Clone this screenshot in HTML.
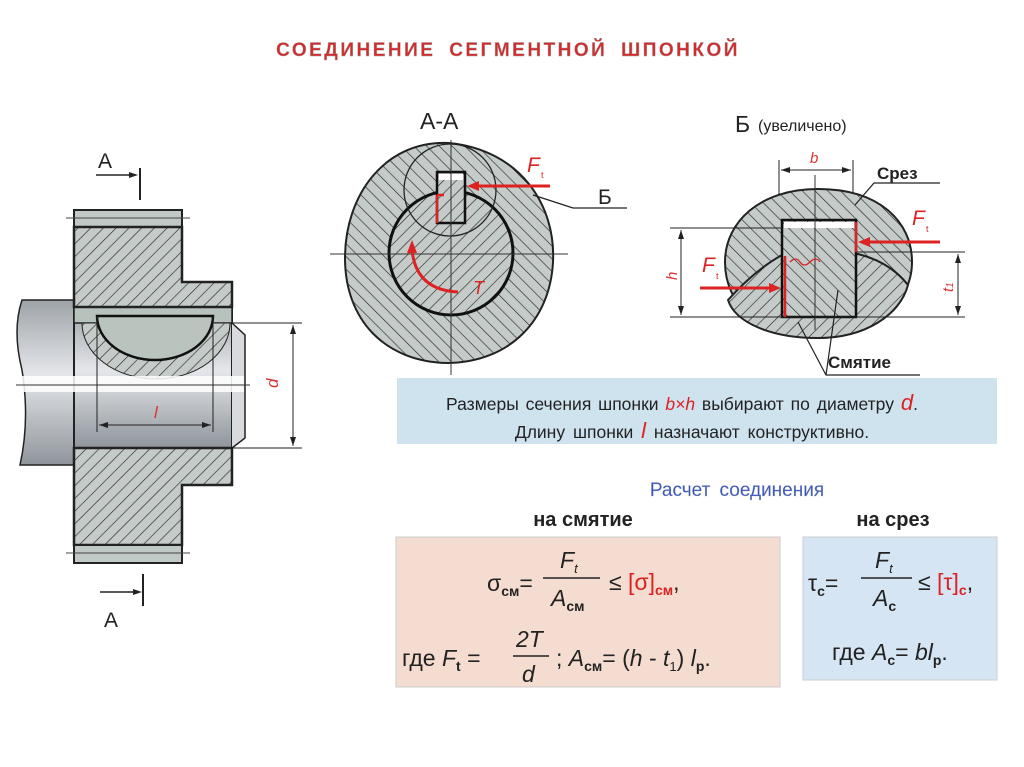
<!DOCTYPE html>
<html><head><meta charset="utf-8"><style>
body{margin:0;background:#fff;}
svg{display:block}
text{font-family:"Liberation Sans",sans-serif;}
</style></head><body>
<svg width="1024" height="767" viewBox="0 0 1024 767" xmlns="http://www.w3.org/2000/svg">
<defs>
<pattern id="h1" patternUnits="userSpaceOnUse" width="9" height="9" patternTransform="rotate(45)">
<rect width="9" height="9" fill="#c4cbc8"/><line x1="0" y1="0" x2="0" y2="9" stroke="#2a2a2a" stroke-width="1.3"/></pattern>
<pattern id="h2" patternUnits="userSpaceOnUse" width="9" height="9" patternTransform="rotate(-45)">
<rect width="9" height="9" fill="#c4cbc8"/><line x1="0" y1="0" x2="0" y2="9" stroke="#2a2a2a" stroke-width="1.3"/></pattern>
<linearGradient id="sh" x1="0" y1="0" x2="0" y2="1">
<stop offset="0" stop-color="#9ea3a8"/><stop offset="0.45" stop-color="#e4e6ea"/><stop offset="1" stop-color="#8f959b"/></linearGradient>
</defs>

<text x="508" y="56" text-anchor="middle" font-size="19" font-weight="bold" fill="#d42a2a" stroke="#a0a0a0" stroke-width="0.4" letter-spacing="2.5" word-spacing="6">СОЕДИНЕНИЕ  СЕГМЕНТНОЙ  ШПОНКОЙ</text>

<!-- LEFT VIEW -->
<path d="M22,300 Q12,330 22,370 Q30,420 20,465 L74,465 L74,300 Z" fill="url(#sh)" stroke="#222" stroke-width="1.5"/>
<rect x="74" y="307" width="158" height="141" fill="url(#sh)" stroke="#222" stroke-width="2"/>
<path d="M232,323 L245,335 L245,438 L232,448" fill="#d8dadd" stroke="#222" stroke-width="1.5"/>
<rect x="74" y="307" width="158" height="16" fill="#b8c2bd" stroke="#222" stroke-width="1.5"/>
<path d="M82,323 A74,56 0 0 0 230,323 Z" fill="url(#h1)" stroke="#222" stroke-width="1"/>
<path d="M97,316 L213,316 A58,44 0 0 1 97,316 Z" fill="#b9c4bf" stroke="#111" stroke-width="2.5"/>
<rect x="16" y="376" width="228" height="16" fill="#fff" opacity="0.85"/>
<line x1="16" y1="385" x2="250" y2="385" stroke="#333" stroke-width="1"/>
<rect x="74" y="210" width="108" height="17" fill="#c0c9c5" stroke="#222" stroke-width="2"/>
<line x1="66" y1="218" x2="190" y2="218" stroke="#444" stroke-width="1"/>
<path d="M74,227 L182,227 L182,282 L232,282 L232,307 L74,307 Z" fill="url(#h1)" stroke="#222" stroke-width="2.5"/>
<path d="M74,448 L232,448 L232,485 L182,485 L182,545 L74,545 Z" fill="url(#h1)" stroke="#222" stroke-width="2.5"/>
<rect x="74" y="545" width="108" height="18" fill="#c0c9c5" stroke="#222" stroke-width="2"/>
<line x1="66" y1="553" x2="190" y2="553" stroke="#444" stroke-width="1"/>
<!-- l dim -->
<line x1="97" y1="316" x2="97" y2="432" stroke="#222"/><line x1="213" y1="316" x2="213" y2="432" stroke="#222"/>
<line x1="99" y1="425" x2="211" y2="425" stroke="#222"/>
<path d="M99,425 l9,-3 v6z M211,425 l-9,-3 v6z" fill="#222"/>
<text x="154" y="418" font-size="17" font-style="italic" fill="#d33">l</text>
<!-- d dim -->
<line x1="232" y1="323" x2="302" y2="323" stroke="#222"/><line x1="232" y1="448" x2="302" y2="448" stroke="#222"/>
<line x1="293" y1="325" x2="293" y2="446" stroke="#222"/>
<path d="M293,325 l-3,9 h6z M293,446 l-3,-9 h6z" fill="#222"/>
<text x="0" y="0" font-size="17" font-style="italic" fill="#d33" transform="translate(278,388) rotate(-90)">d</text>
<!-- A marks -->
<text x="98" y="168" font-size="21" fill="#222">А</text>
<line x1="96" y1="175" x2="134" y2="175" stroke="#222" stroke-width="1.5"/><path d="M138,175 l-9,-3 v6z" fill="#222"/>
<line x1="140" y1="168" x2="140" y2="200" stroke="#222" stroke-width="2"/>
<text x="104" y="627" font-size="21" fill="#222">А</text>
<line x1="100" y1="592" x2="138" y2="592" stroke="#222" stroke-width="1.5"/><path d="M142,592 l-9,-3 v6z" fill="#222"/>
<line x1="143" y1="574" x2="143" y2="606" stroke="#222" stroke-width="2"/>

<!-- SECTION A-A -->
<text x="420" y="129" font-size="23" fill="#222">А-А</text>
<path d="M449,143 C520,150 556,205 553,262 C550,320 510,362 448,363 C385,362 345,320 345,258 C345,195 385,140 449,143 Z" fill="url(#h2)" stroke="#222" stroke-width="2"/>
<circle cx="451" cy="253" r="62" fill="url(#h1)" stroke="#111" stroke-width="3"/>
<circle cx="450" cy="190" r="46" fill="none" stroke="#222" stroke-width="1.3"/>
<rect x="437" y="172" width="28" height="51" fill="url(#h1)" stroke="#111" stroke-width="2.5"/>
<rect x="439" y="174" width="24" height="6" fill="#fff"/>
<line x1="330" y1="254" x2="568" y2="254" stroke="#333" stroke-width="1"/>
<line x1="451" y1="140" x2="451" y2="375" stroke="#333" stroke-width="1"/>
<path d="M437,195 h7 M437,195 v28" stroke="#d22" stroke-width="2.5" fill="none"/>
<line x1="550" y1="186" x2="476" y2="186" stroke="#d22" stroke-width="3"/>
<path d="M467,186 l12,-5 v10z" fill="#d22"/>
<text x="527" y="172" font-size="21" font-style="italic" fill="#d22">F</text><text x="541" y="178" font-size="9" fill="#d22">t</text>
<path d="M458,292 Q416,290 412,250" fill="none" stroke="#d22" stroke-width="3"/>
<path d="M412,240 l-5,13 h10z" fill="#d22"/>
<text x="473" y="294" font-size="18" font-style="italic" fill="#d22">T</text>
<path d="M533,195 L573,208 L627,208" fill="none" stroke="#222" stroke-width="1.3"/>
<text x="598" y="204" font-size="21" fill="#222">Б</text>

<!-- SECTION Б -->
<text x="735" y="132" font-size="23" fill="#222">Б</text>
<text x="758" y="131" font-size="16" fill="#222">(увеличено)</text>
<line x1="779" y1="160" x2="779" y2="222" stroke="#222"/><line x1="853" y1="160" x2="853" y2="222" stroke="#222"/>
<line x1="781" y1="170" x2="851" y2="170" stroke="#222"/>
<path d="M781,170 l9,-3 v6z M851,170 l-9,-3 v6z" fill="#222"/>
<text x="810" y="163" font-size="15" font-style="italic" fill="#d33">b</text>
<path d="M818,189 C880,189 912,222 912,262 C912,305 870,338 818,338 C760,338 725,305 725,262 C725,222 760,189 818,189 Z" fill="url(#h2)" stroke="#222" stroke-width="2"/>
<path d="M728,300 Q755,270 782,255 L858,254 Q890,262 908,285 C900,315 865,338 818,338 C770,338 735,322 728,300 Z" fill="url(#h1)" stroke="#222" stroke-width="2"/>
<rect x="782" y="220" width="74" height="97" fill="url(#h2)" stroke="#111" stroke-width="2.5"/>
<rect x="784" y="222" width="70" height="6" fill="#fff"/>
<line x1="815" y1="175" x2="815" y2="330" stroke="#333"/>
<line x1="670" y1="228" x2="782" y2="228" stroke="#222"/>
<line x1="670" y1="317" x2="965" y2="317" stroke="#222"/>
<line x1="856" y1="252" x2="965" y2="252" stroke="#222"/>
<line x1="681" y1="230" x2="681" y2="315" stroke="#222"/>
<path d="M681,230 l-3,9 h6z M681,315 l-3,-9 h6z" fill="#222"/>
<text x="0" y="0" font-size="15" font-style="italic" fill="#d33" transform="translate(677,280) rotate(-90)">h</text>
<line x1="958" y1="254" x2="958" y2="315" stroke="#222"/>
<path d="M958,254 l-3,9 h6z M958,315 l-3,-9 h6z" fill="#222"/>
<text x="0" y="0" font-size="15" font-style="italic" fill="#d33" transform="translate(953,292) rotate(-90)">t<tspan font-size="10">1</tspan></text>
<path d="M785,256 v61 M856,222 v30" stroke="#d22" stroke-width="2.5"/>
<path d="M790,262 q6,-6 10,0 t10,0 t10,0" fill="none" stroke="#d22" stroke-width="1.3"/>
<line x1="940" y1="242" x2="866" y2="242" stroke="#d22" stroke-width="3"/><path d="M858,242 l12,-5 v10z" fill="#d22"/>
<text x="912" y="225" font-size="21" font-style="italic" fill="#d22">F</text><text x="926" y="232" font-size="9" fill="#d22">t</text>
<line x1="700" y1="288" x2="772" y2="288" stroke="#d22" stroke-width="3"/><path d="M781,288 l-12,-5 v10z" fill="#d22"/>
<text x="702" y="272" font-size="21" font-style="italic" fill="#d22">F</text><text x="716" y="279" font-size="9" fill="#d22">t</text>
<text x="877" y="179" font-size="17" font-weight="bold" fill="#222">Срез</text>
<path d="M940,183 L874,183 L855,205" fill="none" stroke="#222" stroke-width="1.2"/>
<text x="828" y="368" font-size="17" font-weight="bold" fill="#222">Смятие</text>
<path d="M920,375 L826,375 L798,322 M826,375 L838,290" fill="none" stroke="#222" stroke-width="1.2"/>

<!-- info box -->
<rect x="397" y="378" width="600" height="66" fill="#cfe3ef"/>
<text x="682" y="410" text-anchor="middle" font-size="17.5" fill="#222" word-spacing="2">Размеры сечения шпонки  <tspan fill="#d22" font-style="italic">b×h</tspan>  выбирают по диаметру <tspan fill="#d22" font-style="italic" font-size="22">d</tspan>.</text>
<text x="692" y="438" text-anchor="middle" font-size="17.5" fill="#222" word-spacing="3">Длину шпонки  <tspan fill="#d22" font-style="italic" font-size="22">l</tspan>  назначают  конструктивно.</text>

<text x="737" y="496" text-anchor="middle" font-size="19" fill="#3a52c8" stroke="#9aa" stroke-width="0.3" word-spacing="4">Расчет  соединения</text>
<text x="583" y="526" text-anchor="middle" font-size="20" font-weight="bold" fill="#222">на смятие</text>
<text x="893" y="526" text-anchor="middle" font-size="20" font-weight="bold" fill="#222">на  срез</text>

<rect x="396" y="537" width="384" height="150" fill="#f4ddd0" stroke="#ccc"/>
<g font-size="23" fill="#222">
<text x="487" y="591">σ<tspan font-size="14" font-weight="bold" dy="5">см</tspan><tspan dy="-5">=</tspan></text>
<text x="560" y="568" font-style="italic">F<tspan font-size="13" dy="5">t</tspan></text>
<line x1="543" y1="578" x2="600" y2="578" stroke="#222" stroke-width="1.5"/>
<text x="551" y="606" font-style="italic">A<tspan font-size="14" font-weight="bold" font-style="normal" dy="5">см</tspan></text>
<text x="609" y="590">≤ <tspan fill="#d22">[σ]<tspan font-size="14" font-weight="bold" dy="5">см</tspan></tspan><tspan dy="-5">,</tspan></text>
<text x="402" y="666">где  <tspan font-style="italic">F</tspan><tspan font-size="14" font-weight="bold" dy="5">t</tspan><tspan dy="-5"> =</tspan></text>
<text x="516" y="647" font-style="italic">2T</text>
<line x1="513" y1="656" x2="549" y2="656" stroke="#222" stroke-width="1.5"/>
<text x="522" y="682" font-style="italic">d</text>
<text x="556" y="666">;   <tspan font-style="italic">A</tspan><tspan font-size="14" font-weight="bold" dy="5">см</tspan><tspan dy="-5">= (<tspan font-style="italic">h</tspan> - <tspan font-style="italic">t</tspan></tspan><tspan font-size="13" dy="5">1</tspan><tspan dy="-5">) <tspan font-style="italic">l</tspan></tspan><tspan font-size="14" font-weight="bold" dy="5">р</tspan><tspan dy="-5">.</tspan></text>
</g>

<rect x="803" y="537" width="194" height="143" fill="#d5e5f3" stroke="#ccc"/>
<g font-size="23" fill="#222">
<text x="808" y="591">τ<tspan font-size="14" font-weight="bold" dy="5">c</tspan><tspan dy="-5">=</tspan></text>
<text x="875" y="568" font-style="italic">F<tspan font-size="13" dy="5">t</tspan></text>
<line x1="861" y1="578" x2="912" y2="578" stroke="#222" stroke-width="1.5"/>
<text x="873" y="606" font-style="italic">A<tspan font-size="14" font-weight="bold" font-style="normal" dy="5">c</tspan></text>
<text x="918" y="590">≤ <tspan fill="#d22">[τ]<tspan font-size="14" font-weight="bold" dy="5">c</tspan></tspan><tspan dy="-5">,</tspan></text>
<text x="832" y="660">где  <tspan font-style="italic">A</tspan><tspan font-size="14" font-weight="bold" dy="5">c</tspan><tspan dy="-5">= <tspan font-style="italic">bl</tspan></tspan><tspan font-size="14" font-weight="bold" dy="5">р</tspan><tspan dy="-5">.</tspan></text>
</g>
</svg>
</body></html>
